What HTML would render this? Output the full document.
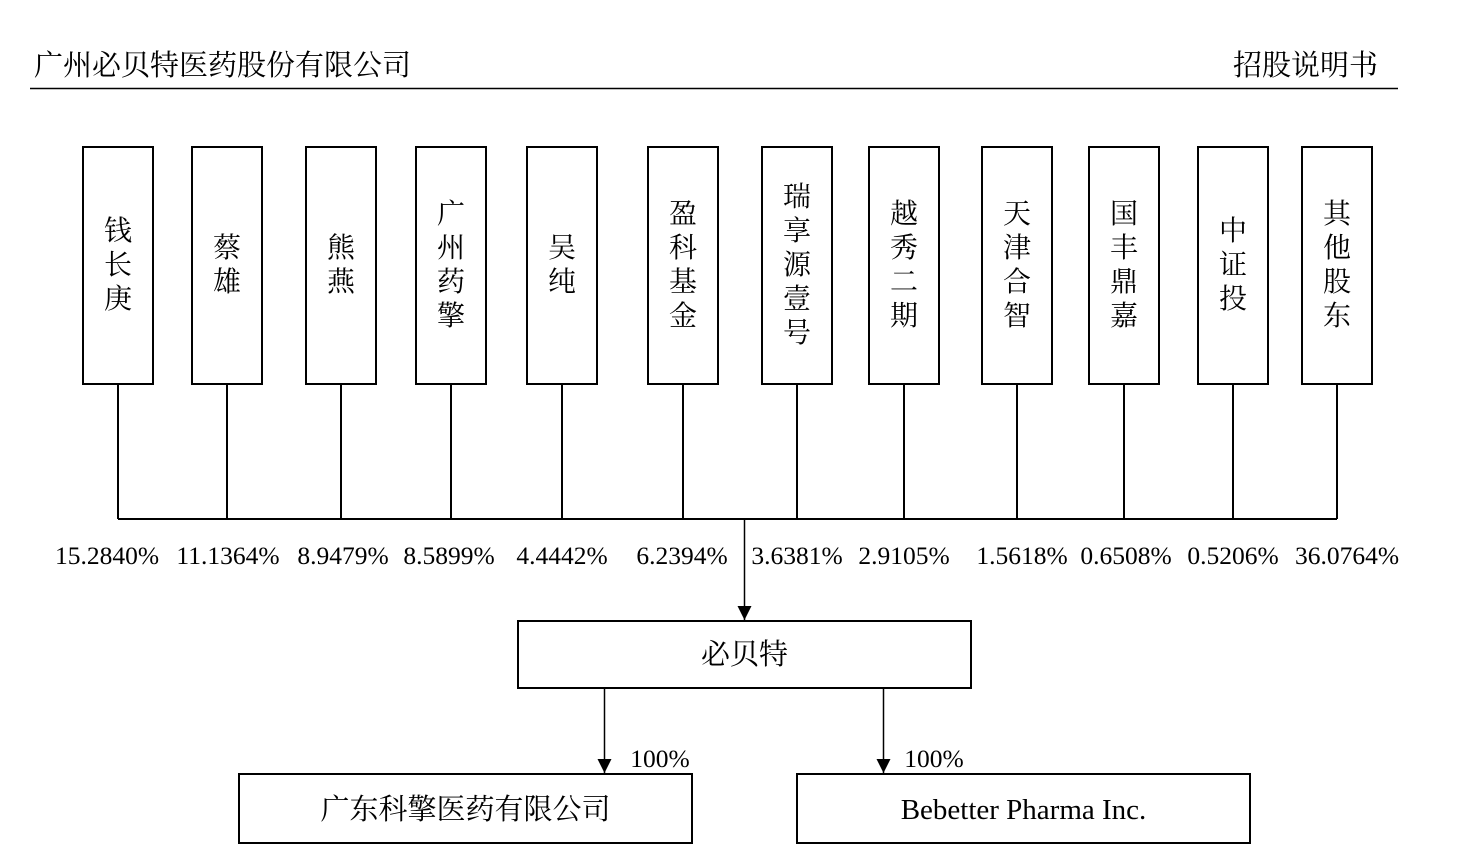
<!DOCTYPE html>
<html><head><meta charset="utf-8"><style>
html,body{margin:0;padding:0;background:#fff;}
svg{display:block;}
text{font-family:"Liberation Serif","Noto Serif CJK SC",serif;fill:#000;}
</style></head><body>
<svg width="1460" height="860" viewBox="0 0 1460 860" xmlns="http://www.w3.org/2000/svg">
<defs>
<marker id="b" viewBox="0 0 16 16" refX="16" refY="8" markerWidth="16" markerHeight="14" orient="auto" markerUnits="userSpaceOnUse"><path d="M0,0 L16,8 L0,16 z" fill="#000"/></marker></defs>
<text x="34" y="75" font-size="29">广州必贝特医药股份有限公司</text>
<text x="1378" y="75" font-size="29" text-anchor="end">招股说明书</text>
<line x1="30" y1="88.5" x2="1398" y2="88.5" stroke="#000" stroke-width="1.5"/>
<g fill="none" stroke="#000" stroke-width="2">
<rect x="83" y="147" width="70" height="237"/>
<rect x="192" y="147" width="70" height="237"/>
<rect x="306" y="147" width="70" height="237"/>
<rect x="416" y="147" width="70" height="237"/>
<rect x="527" y="147" width="70" height="237"/>
<rect x="648" y="147" width="70" height="237"/>
<rect x="762" y="147" width="70" height="237"/>
<rect x="869" y="147" width="70" height="237"/>
<rect x="982" y="147" width="70" height="237"/>
<rect x="1089" y="147" width="70" height="237"/>
<rect x="1198" y="147" width="70" height="237"/>
<rect x="1302" y="147" width="70" height="237"/>
<path d="M118 384V519M227 384V519M341 384V519M451 384V519M562 384V519M683 384V519M797 384V519M904 384V519M1017 384V519M1124 384V519M1233 384V519M1337 384V519M118 519H1337"/>
<rect x="518" y="621" width="453" height="67"/>
<rect x="239" y="774" width="453" height="69"/>
<rect x="797" y="774" width="453" height="69"/>
</g>
<g stroke="#000" stroke-width="1.5" fill="none">
<line x1="744.5" y1="519" x2="744.5" y2="620" marker-end="url(#b)"/>
<line x1="604.5" y1="688" x2="604.5" y2="773" marker-end="url(#b)"/>
<line x1="883.5" y1="688" x2="883.5" y2="773" marker-end="url(#b)"/>
</g>
<g font-size="28" text-anchor="middle">
<text><tspan x="118" y="240">钱</tspan><tspan x="118" y="274">长</tspan><tspan x="118" y="308">庚</tspan></text>
<text><tspan x="227" y="257">蔡</tspan><tspan x="227" y="291">雄</tspan></text>
<text><tspan x="341" y="257">熊</tspan><tspan x="341" y="291">燕</tspan></text>
<text><tspan x="451" y="223">广</tspan><tspan x="451" y="257">州</tspan><tspan x="451" y="291">药</tspan><tspan x="451" y="325">擎</tspan></text>
<text><tspan x="562" y="257">吴</tspan><tspan x="562" y="291">纯</tspan></text>
<text><tspan x="683" y="223">盈</tspan><tspan x="683" y="257">科</tspan><tspan x="683" y="291">基</tspan><tspan x="683" y="325">金</tspan></text>
<text><tspan x="797" y="206">瑞</tspan><tspan x="797" y="240">享</tspan><tspan x="797" y="274">源</tspan><tspan x="797" y="308">壹</tspan><tspan x="797" y="342">号</tspan></text>
<text><tspan x="904" y="223">越</tspan><tspan x="904" y="257">秀</tspan><tspan x="904" y="291">二</tspan><tspan x="904" y="325">期</tspan></text>
<text><tspan x="1017" y="223">天</tspan><tspan x="1017" y="257">津</tspan><tspan x="1017" y="291">合</tspan><tspan x="1017" y="325">智</tspan></text>
<text><tspan x="1124" y="223">国</tspan><tspan x="1124" y="257">丰</tspan><tspan x="1124" y="291">鼎</tspan><tspan x="1124" y="325">嘉</tspan></text>
<text><tspan x="1233" y="240">中</tspan><tspan x="1233" y="274">证</tspan><tspan x="1233" y="308">投</tspan></text>
<text><tspan x="1337" y="223">其</tspan><tspan x="1337" y="257">他</tspan><tspan x="1337" y="291">股</tspan><tspan x="1337" y="325">东</tspan></text>
</g>
<g font-size="25.5" text-anchor="middle">
<text x="107" y="564">15.2840%</text>
<text x="228" y="564">11.1364%</text>
<text x="343" y="564">8.9479%</text>
<text x="449" y="564">8.5899%</text>
<text x="562" y="564">4.4442%</text>
<text x="682" y="564">6.2394%</text>
<text x="797" y="564">3.6381%</text>
<text x="904" y="564">2.9105%</text>
<text x="1022" y="564">1.5618%</text>
<text x="1126" y="564">0.6508%</text>
<text x="1233" y="564">0.5206%</text>
<text x="1347" y="564">36.0764%</text>
<text x="660" y="767">100%</text>
<text x="934" y="767">100%</text>
</g>
<text x="744.5" y="664" font-size="29" text-anchor="middle">必贝特</text>
<text x="465.5" y="819" font-size="29" text-anchor="middle">广东科擎医药有限公司</text>
<text x="1023.5" y="819" font-size="29" text-anchor="middle">Bebetter Pharma Inc.</text>
</svg>
</body></html>
